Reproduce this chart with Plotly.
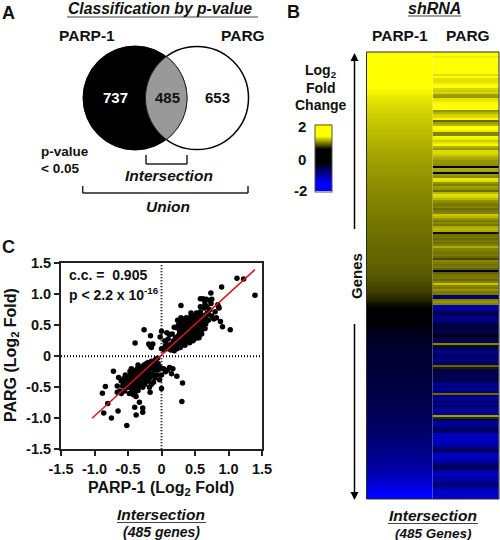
import numpy as np
import plotly.graph_objects as go

W, H = 500, 540

# ---------- data ----------
venn_counts = ["737", "485", "653"]
axis_ticks = [-1.5, -1.0, -0.5, 0, 0.5, 1.0, 1.5]
axis_labels = ["-1.5", "-1.0", "-0.5", "0", "0.5", "1.0", "1.5"]
colorbar_labels = ["2", "0", "-2"]

fit_x = [-1.036, 1.395]
fit_y = [-1.0, 1.398]

outlier_x = [1.126, 1.226, 1.395, .897, .737, .84, 1.026, .91, .29, -.26, -.394, -.164, 0, -.02, -.518, -.747, -.862, -.648,
             -.802, -.882, -.837, -.717, .304, .314, .229, 0, -.17, -.28, -.379, -.4, -.33, -.28]
outlier_y = [1.258, 1.247, .984, 1.118, 1.02, .833, .43, .478, .82, .43, .215, .333, .403, .31, -1.118, -.995, -.914, -.882,
             -.763, -.597, -.489, -.242, -.731, -.43, -.323, -.52, -.58, -.903, -.946, -.823, -.742, -.833]
upper_x = [.08, .1, .05, .12, .14, .15, .17, .18, .19, .2, .2, .22, .22, .23, .24, .25, .25, .26, .27, .27, .28, .28, .29, .3, .3, .3,
           .31, .32, .32, .33, .33, .34, .34, .35, .35, .36, .36, .37, .37, .38, .38, .39, .39, .4, .4, .41, .41, .42, .42, .43,
           .43, .44, .44, .45, .45, .46, .46, .47, .47, .48, .48, .49, .5, .5, .5, .52, .52, .53, .54, .54, .55, .56, .56, .57,
           .58, .58, .6, .6, .6, .62, .62, .63, .64, .65, .66, .67, .68, .7, .72, .74, .75, .78, .8, .82, .85, .86, .88, .64, .58,
           .68, .75, .42, .36, .29, .27, .31, .22, .19, .16, .1, .07, .12, .04, .06, .2, .26, .34, .4, .46, .52, .31, .24, .18,
           .15, .28, .33, .38, .44, .13, .21, .35, .47, .55, .62, .7, .5, .41, .3,
           .25, .3, .37, .44, .51, .58, .65, .33, .4, .47, .54, .6, .28, .35, .72, .66, .24, .49, .56, .43]
upper_y = [.13, .12, .14, .18, .1, .2, .14, .25, .09, .21, .16, .28, .19, .12, .24, .33, .2, .15, .28, .4, .22, .34, .26, .18, .3, .45,
           .37, .25, .42, .31, .2, .36, .5, .28, .42, .33, .55, .25, .39, .46, .3, .35, .6, .42, .28, .5, .36, .45, .22, .33,
           .55, .4, .65, .48, .3, .38, .58, .44, .25, .52, .35, .62, .45, .55, .32, .4, .7, .5, .58, .3, .47, .65, .38, .54,
           .44, .72, .6, .5, .36, .66, .93, .55, .78, .45, .62, .92, .7, .58, .75, .85, .65, .6, .72, .62, .8, .78, .56, .9, .93,
           .8, .92, .6, .47, .62, .55, .6, .46, .47, .36, .28, .2, .35, .1, .17, .24, .24, .33, .37, .43, .5, .32, .18, .2,
           .16, .3, .4, .4, .5, .15, .3, .36, .5, .55, .58, .68, .42, .32, .24,
           .5, .52, .62, .7, .66, .8, .84, .47, .52, .62, .42, .42, .14, .18, .9, .52, .58, .28, .3, .27]
lower_x = [-.05, -.08, -.1, -.12, -.13, -.14, -.15, -.16, -.17, -.18, -.19, -.2, -.2, -.22, -.22, -.23, -.24, -.25, -.25, -.26,
           -.27, -.28, -.28, -.29, -.3, -.3, -.31, -.32, -.32, -.33, -.34, -.35, -.35, -.36, -.37, -.37, -.38, -.39, -.4, -.4,
           -.41, -.42, -.43, -.44, -.45, -.46, -.47, -.48, -.5, -.5, -.52, -.54, -.55, -.56, -.58, -.6, -.62, -.64, -.66, -.66,
           -.6, -.42, -.38, -.05, -.02, 0, .03, .06, .09, .12, .17, .15, -.03, -.07, -.1, -.12, -.15, -.18, -.13, -.17, -.15,
           0, .03, .05, .08, -.19, -.16, -.24, -.3, -.21, -.33, -.27, -.38, -.44, -.19, -.11, -.36, -.48, -.07,
           -.47, -.42, -.36, -.31, -.26, -.4, -.34, -.29, -.24, -.44, -.52, -.57, -.2, -.15, -.09, -.06, -.35, -.45]
lower_y = [-.12, -.1, -.22, -.12, -.28, -.15, -.3, -.1, -.2, -.35, -.14, -.25, -.4, -.18, -.3, -.12, -.38, -.22, -.45, -.28,
           -.16, -.35, -.5, -.24, -.42, -.3, -.18, -.36, -.48, -.25, -.4, -.32, -.55, -.2, -.44, -.36, -.28, -.5, -.38, -.6,
           -.3, -.45, -.22, -.35, -.52, -.42, -.3, -.6, -.38, -.5, -.46, -.3, -.56, -.36, -.48, -.4, -.56, -.34, -.48, -.58,
           -.6, -.62, -.65, -.22, -.18, -.3, -.2, -.25, -.22, -.18, -.2, -.28, -.38, -.3, -.35, -.42, -.45, -.5, .2, .17, .14,
           .12, .12, .25, .38, .2, .16, -.33, -.36, -.33, -.29, -.41, -.34, -.4, -.27, -.17, -.48, -.46, -.16,
           -.24, -.27, -.24, -.22, -.14, -.52, -.48, -.45, -.42, -.58, -.36, -.42, -.1, -.08, -.05, -.03, -.14, -.2]

# values top to bottom, PARP-1 column of the heat map
parp1_fold = [1.5, 1.45, 1.4, 1.32, 1.26, 1.2, 1.16, 1.12, 1.09, 1.06, 1.03, 1.0, .98, .96, .94, .92, .9, .885, .87, .85,
              .84, .82, .81, .8, .78, .74, .7, .62, .5, .3, -.35, -.45, -.5, -.53, -.55, -.57, -.6, -.62, -.65, -.68,
              -.72, -.76, -.82, -.88, -.95, -1.03, -1.12, -1.25, -1.42, -1.6]
# values top to bottom, PARG column of the heat map
parg_fold = [1.5, 1.5, 1.22, 1.5, 1.5, 1.5, 1.5, 1.5, 1.5, 1.5,
             1.5, 1.18, 1.3, 1.18, 1.18, 1.2, 1.5, 1.5, 1.15, 1.12,
             1.14, .98, .96, 1.18, 1.2, 1.25, 1.5, 1.5, 1.3, .95,
             1.04, 1.14, 1.16, 1.25, .82, .98, 1.04, 1.5, 1.5, 1.2,
             .9, .9, 1.25, 1.22, 1.12, 1.2, 1.25, 1.04, .96, 1.16,
             1.16, 1.12, 1.04, 1.0, .95, .95, .92, .5, 1.02, 1.0,
             -.62, .95, .92, 1.2, 1.18, .95, .88, .98, .95, .82,
             1.06, 1.18, 1.15, 1.06, .95, .9, .86, .9, .82, .87,
             .9, 1.1, 1.06, .95, .87, .92, .86, 1.02, 1.06, 1.02,
             .55, .84, .86, .82, .86, .84, .88, 1.02, .9, .87,
             .84, .87, .82, .72, .9, .87, .84, .87, .8, -.55,
             .8, .86, .87, .82, .9, 1.1, .9, .87, .95, .87,
             .86, -.78, -.82, .9, .95, .9, -1.1, -1.05, -.98, -.72,
             -.66, -.85, -.9, -.9, -.85, -.62, -.6, -.62, -.64, -.62,
             -.58, .45, -.62, -.66, -.7, .9, .55, -.62, -.85, -1.0,
             -.78, -.85, -.78, -.9, -.82, -.7, .8, .58, -.62, -.7,
             -.62, -.66, -.7, -.66, -.74, -.98, -.92, -1.0, -.92, -.82,
             .82, -.85, -1.0, -.98, -.78, -1.0, -.72, -.98, -1.05, -.98,
             -.92, .98, .62, -.7, -.98, -1.05, -.98, -.82, -.72, -.85,
             -1.15, -1.2, -1.18, -1.22, -1.18, -1.15, -1.05, -.92, -.72, -.82,
             -1.2, -1.25, -1.2, -1.1, -1.0, -.9, -.72, -.66, -.9, -1.15,
             -1.25, -1.15, -1.05, -1.12, -1.0, -.85, -.82, -1.1, -1.22, -1.25,
             -1.22, -1.25, -1.3]

heat_scale = [[0, "#0000ff"], [.125, "#0000ff"], [.425, "#000000"], [.625, "#000000"], [.8175, "#ffff00"], [1, "#ffff00"]]

# ---------- layout helpers (pixel -> paper) ----------
FONT = "Liberation Sans"
def px(x): return x / W
def py(y): return 1 - y / H

annotations = []
def txt(x, y, s, size=14, italic=False, anchor="center", angle=0, color="#111111"):
    if italic:
        s = "<i>" + s + "</i>"
    annotations.append(dict(x=px(x), y=py(y), xref="paper", yref="paper", text="<b>" + s + "</b>", showarrow=False,
                            xanchor=anchor, yanchor="middle", textangle=angle,
                            font=dict(family=FONT, size=size, color=color), align="left"))

shapes = []
def seg(x0, y0, x1, y1, width=1.5, color="#222222"):
    shapes.append(dict(type="line", xref="paper", yref="paper", x0=px(x0), y0=py(y0), x1=px(x1), y1=py(y1),
                       line=dict(color=color, width=width)))

# ---------- panel A ----------
lc, rc, cy, lr, rr = (135, 197, 98, 52, 51.5)
shapes.append(dict(type="circle", xref="paper", yref="paper", x0=px(rc - rr), x1=px(rc + rr), y0=py(cy + rr), y1=py(cy - rr),
                   fillcolor="white", line=dict(color="black", width=1.5)))
shapes.append(dict(type="circle", xref="paper", yref="paper", x0=px(lc - lr), x1=px(lc + lr), y0=py(cy + lr), y1=py(cy - lr),
                   fillcolor="black", line=dict(color="black", width=1)))
d = rc - lc
a = (d * d + lr * lr - rr * rr) / (2 * d)
hh = np.sqrt(lr * lr - a * a)
t1 = np.arctan2(hh, a)
t2 = np.arctan2(hh, a - d)
ang1 = np.linspace(-t1, t1, 40)
ang2 = np.linspace(t2, 2 * np.pi - t2, 40)
pts = [(lc + lr * np.cos(t), cy + lr * np.sin(t)) for t in ang1] + [(rc + rr * np.cos(t), cy + rr * np.sin(t)) for t in ang2]
lens = "M " + " L ".join(f"{px(x):.5f},{py(y):.5f}" for x, y in pts) + " Z"
shapes.append(dict(type="path", xref="paper", yref="paper", path=lens, fillcolor="#999999", line=dict(color="#222222", width=1)))

txt(8, 13, "A", 18)
txt(160, 8, "Classification by p-value", 15.7, True)
seg(67, 17, 258, 17, 1.2, "#444444")
txt(87, 36, "PARP-1", 15.5)
txt(243, 36, "PARG", 15.5)
txt(115, 98, venn_counts[0], 15, color="white")
txt(167, 98, venn_counts[1], 15)
txt(217, 98, venn_counts[2], 15)
txt(39, 152, "p-value", 13.5, anchor="left")
txt(39, 168, "&lt; 0.05", 13.5, anchor="left")
seg(146, 155, 146, 164); seg(146, 164, 187, 164); seg(187, 164, 187, 155)
txt(168.5, 175, "Intersection", 15.5, True)
seg(82.7, 186, 82.7, 193); seg(82.7, 193, 248, 193); seg(248, 193, 248, 186)
txt(168, 206, "Union", 15.5, True)

# ---------- panel B ----------
txt(293, 12, "B", 18)
txt(434, 8, "shRNA", 16, True)
seg(408, 16, 461, 16, 1.2, "#444444")
txt(400, 36, "PARP-1", 15.5)
txt(468, 36, "PARG", 15.5)
txt(321, 71, "Log<sub>2</sub>", 14)
txt(321, 88, "Fold", 14)
txt(321, 105, "Change", 14)
txt(302, 126, colorbar_labels[0], 15)
txt(302, 159, colorbar_labels[1], 15)
txt(300, 191, colorbar_labels[2], 15)
txt(356, 276, "Genes", 15, angle=-90)
txt(433, 515, "Intersection", 15.5, True)
seg(388, 523.5, 478, 523.5, 1.2, "#444444")
txt(433, 533, "(485 Genes)", 13.5, True)
seg(354.5, 229, 354.5, 58, 1.5, "black")
seg(354.5, 324, 354.5, 495, 1.5, "black")
shapes.append(dict(type="path", xref="paper", yref="paper", fillcolor="black", line=dict(width=0),
                   path=f"M {px(354.5)},{py(53)} L {px(350.5)},{py(61)} L {px(358.5)},{py(61)} Z"))
shapes.append(dict(type="path", xref="paper", yref="paper", fillcolor="black", line=dict(width=0),
                   path=f"M {px(354.5)},{py(500)} L {px(350.5)},{py(492)} L {px(358.5)},{py(492)} Z"))
shapes.append(dict(type="rect", xref="paper", yref="paper", x0=px(366.5), x1=px(499), y0=py(499), y1=py(52),
                   line=dict(color="#2a2a2a", width=1), layer="above"))

# ---------- panel C text ----------
txt(8, 247, "C", 18)
txt(67, 275, "c.c. =  0.905", 14, anchor="left")
txt(67, 294, "p &lt; 2.2 x 10<sup>-16</sup>", 14, anchor="left")
txt(11, 355, "PARG (Log<sub>2</sub> Fold)", 16, angle=-90)
txt(161, 488, "PARP-1 (Log<sub>2</sub> Fold)", 16)
txt(161, 514, "Intersection", 15.5, True)
seg(117, 522.5, 206, 522.5, 1.2, "#444444")
txt(161, 532, "(485 genes)", 14, True)

# ---------- figure ----------
fig = go.Figure()
fig.add_trace(go.Scatter(x=axis_ticks[::6], y=[0, 0], mode="lines", line=dict(color="black", width=2, dash="1px 2px"),
                         hoverinfo="skip", showlegend=False))
fig.add_trace(go.Scatter(x=[0, 0], y=axis_ticks[::6], mode="lines", line=dict(color="black", width=2, dash="1px 2px"),
                         hoverinfo="skip", showlegend=False))
fig.add_trace(go.Scatter(x=outlier_x + upper_x + lower_x, y=outlier_y + upper_y + lower_y, mode="markers",
                         marker=dict(color="black", size=5.5), showlegend=False))
fig.add_trace(go.Scatter(x=fit_x, y=fit_y, mode="lines", line=dict(color="#d8151b", width=1.5), showlegend=False))

fig.add_trace(go.Heatmap(z=[[v, v] for v in parp1_fold], xaxis="x2", yaxis="y2", zmin=-2, zmax=2, colorscale=heat_scale,
                         zsmooth="best", showscale=True,
                         colorbar=dict(x=px(314.5), xanchor="left", y=py(191.5), yanchor="bottom", lenmode="pixels", len=66.5,
                                       thicknessmode="pixels", thickness=17, showticklabels=False, ticks="",
                                       outlinecolor="#555555", outlinewidth=1, xpad=0, ypad=0)))
fig.add_trace(go.Heatmap(z=[[v] for v in parg_fold], xaxis="x3", yaxis="y3", zmin=-2, zmax=2, colorscale=heat_scale,
                         showscale=False))

tick = dict(family=FONT, size=14.5, color="#111111", weight=700)
common = dict(range=[-1.5, 1.5], tickvals=axis_ticks, ticktext=axis_labels, showgrid=False, zeroline=False,
              showline=True, linecolor="#222222", linewidth=2, mirror=True, ticks="outside", ticklen=5, tickwidth=2,
              tickcolor="#222222", tickfont=tick, tickangle=0)
hidden = dict(visible=False, showgrid=False, zeroline=False)

fig.update_layout(
    width=W, height=H, margin=dict(l=0, r=0, t=0, b=0, pad=0, autoexpand=False), paper_bgcolor="white", plot_bgcolor="white",
    showlegend=False, annotations=annotations, shapes=shapes,
    xaxis=dict(domain=[px(61), px(262)], anchor="y", **common),
    yaxis=dict(domain=[py(449.3), py(263.3)], anchor="x", **common),
    xaxis2=dict(domain=[px(366.5), px(433.2)], anchor="y2", **hidden, range=[0, 1]),
    yaxis2=dict(domain=[py(499), py(52)], anchor="x2", **hidden, range=[len(parp1_fold) - 1, 0]),
    xaxis3=dict(domain=[px(432.7), px(499)], anchor="y3", **hidden, range=[-.5, .5]),
    yaxis3=dict(domain=[py(499), py(52)], anchor="x3", **hidden, range=[len(parg_fold) - .5, -.5]),
)

fig.write_html("out.html", config={"displayModeBar": False}, post_script="document.body.style.margin='0';")
